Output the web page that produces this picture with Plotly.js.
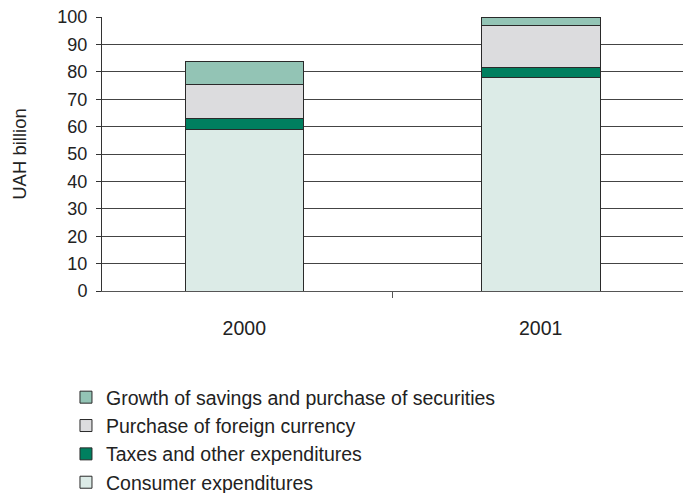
<!DOCTYPE html>
<html>
<head>
<meta charset="utf-8">
<script src="https://cdn.plot.ly/plotly-3.0.1.min.js"></script>
<style>html,body{margin:0;padding:0;background:#fff;}#chart{width:683px;height:493px;}</style>
</head>
<body>
<div id="chart"></div>
<script>
const years = ['2000', '2001'];
const consumer = [59.0, 78.0];
const taxes = [4.0, 3.5];
const currency = [12.2, 15.3];
const savings = [8.6, 3.2];
const seriesNames = ['Consumer expenditures', 'Taxes and other expenditures', 'Purchase of foreign currency', 'Growth of savings and purchase of securities'];
const seriesColors = ['#dcebe7', '#007f5f', '#dcdcde', '#93c4b5'];
const seriesValues = [consumer, taxes, currency, savings];

const traces = seriesValues.map((vals, i) => ({
  type: 'bar',
  x: years,
  y: vals,
  name: seriesNames[i],
  marker: {color: seriesColors[i], line: {color: '#2a2a2a', width: 1}},
  hoverinfo: 'none'
}));

const layout = {
  width: 683, height: 493,
  margin: {l: 102, r: 0, t: 17, b: 202, autoexpand: false},
  barmode: 'stack',
  bargap: 0.6,
  paper_bgcolor: '#fff', plot_bgcolor: '#fff',
  font: {family: 'Liberation Sans, Arial, sans-serif', color: '#222', size: 19},
  xaxis: {
    type: 'category', range: [-0.48, 1.48],
    showline: true, linecolor: '#555', linewidth: 1,
    ticks: 'outside', tickson: 'boundaries', ticklen: 6, tickcolor: '#555',
    showgrid: false, tickfont: {size: 19.5}, ticklabelstandoff: 20, zeroline: false
  },
  yaxis: {
    range: [0, 100], dtick: 10, tick0: 0,
    showline: true, linecolor: '#333', linewidth: 1,
    ticks: 'outside', ticklen: 5, tickcolor: '#333',
    showgrid: true, gridcolor: '#444', gridwidth: 1,
    zeroline: false, tickfont: {size: 18}, ticklabelstandoff: 5,
    title: {text: 'UAH billion', font: {size: 18.5}, standoff: 25}
  },
  legend: {
    orientation: 'v', traceorder: 'reversed',
    x: -0.062, xanchor: 'left', y: -0.3175, yanchor: 'top',
    font: {size: 19.5}, bgcolor: 'rgba(0,0,0,0)'
  },
  showlegend: true
};

Plotly.newPlot('chart', traces, layout, {staticPlot: true, displayModeBar: false});
</script>
</body>
</html>
